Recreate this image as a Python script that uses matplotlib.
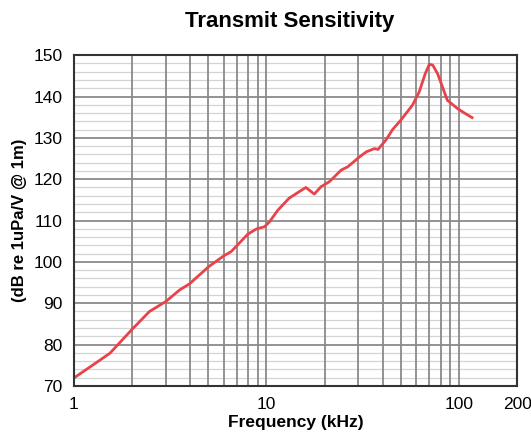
import matplotlib
matplotlib.use("Agg")
import matplotlib.pyplot as plt
from matplotlib.ticker import FixedLocator, FixedFormatter, MultipleLocator, LogLocator, NullFormatter

plt.rcParams['font.family'] = ['Liberation Sans', 'DejaVu Sans']

freq_khz = [1.0, 1.26, 1.54, 1.99, 2.47, 3.0, 3.54, 3.99, 5.0, 5.98, 6.56, 8.0, 8.9,
            9.77, 10.37, 11.45, 13.1, 14.8, 16.0, 17.7, 19.2, 21.2, 24.4, 26.4, 30.4,
            32.9, 36.3, 37.9, 41.7, 45.1, 49.8, 57.2, 62.0, 66.6, 70.0, 72.9, 77.3,
            81.9, 86.8, 98.0, 105.7, 116.7]
sensitivity_db = [71.9, 75.1, 77.9, 83.5, 88.0, 90.4, 93.2, 94.7, 98.8, 101.4, 102.5, 106.7, 108.0,
                  108.5, 109.7, 112.5, 115.4, 117.0, 118.0, 116.4, 118.2, 119.4, 122.2, 123.0, 125.4,
                  126.6, 127.4, 127.2, 129.5, 132.0, 134.3, 137.9, 141.1, 145.5, 147.8, 147.6, 145.5,
                  142.3, 139.1, 137.1, 136.1, 134.9]
x_ticks = [1, 10, 100, 200]
x_tick_labels = ["1", "10", "100", "200"]

fig = plt.figure(figsize=(5.31, 4.38), dpi=100)
ax = fig.add_axes([0.139, 0.119, 0.835, 0.755])

ax.set_xscale('log')
ax.set_xlim(1, 200)
ax.set_ylim(70, 150)

ax.xaxis.set_major_locator(FixedLocator(x_ticks))
ax.xaxis.set_major_formatter(FixedFormatter(x_tick_labels))
ax.xaxis.set_minor_locator(LogLocator(base=10, subs=range(2, 10)))
ax.xaxis.set_minor_formatter(NullFormatter())
ax.yaxis.set_major_locator(MultipleLocator(10))
ax.yaxis.set_minor_locator(MultipleLocator(2))

ax.set_axisbelow(True)
ax.grid(True, axis='x', which='both', color='#8a8a8a', linewidth=1.3)
ax.grid(True, axis='y', which='major', color='#8a8a8a', linewidth=1.3)
ax.grid(True, axis='y', which='minor', color='#d4d4d4', linewidth=0.9)
ax.yaxis.set_zorder(0.4)
ax.xaxis.set_zorder(0.45)

ax.plot(freq_khz, sensitivity_db, color='#e8434b', linewidth=2.0, zorder=3)

ax.tick_params(which='both', length=0, labelsize=12.5, pad=8)
for s in ax.spines.values():
    s.set_color('#333333')
    s.set_linewidth(1.5)
    s.set_zorder(4)

fig.text(290 / 531, 1 - 22 / 438, "Transmit Sensitivity", fontsize=16, fontweight='bold',
         ha='center', va='center')
ax.set_xlabel("Frequency (kHz)", fontsize=12.5, fontweight='bold', labelpad=2)
ax.set_ylabel("(dB re 1uPa/V @ 1m)", fontsize=12, fontweight='bold', labelpad=5)

fig.savefig("out.png", dpi=100)
